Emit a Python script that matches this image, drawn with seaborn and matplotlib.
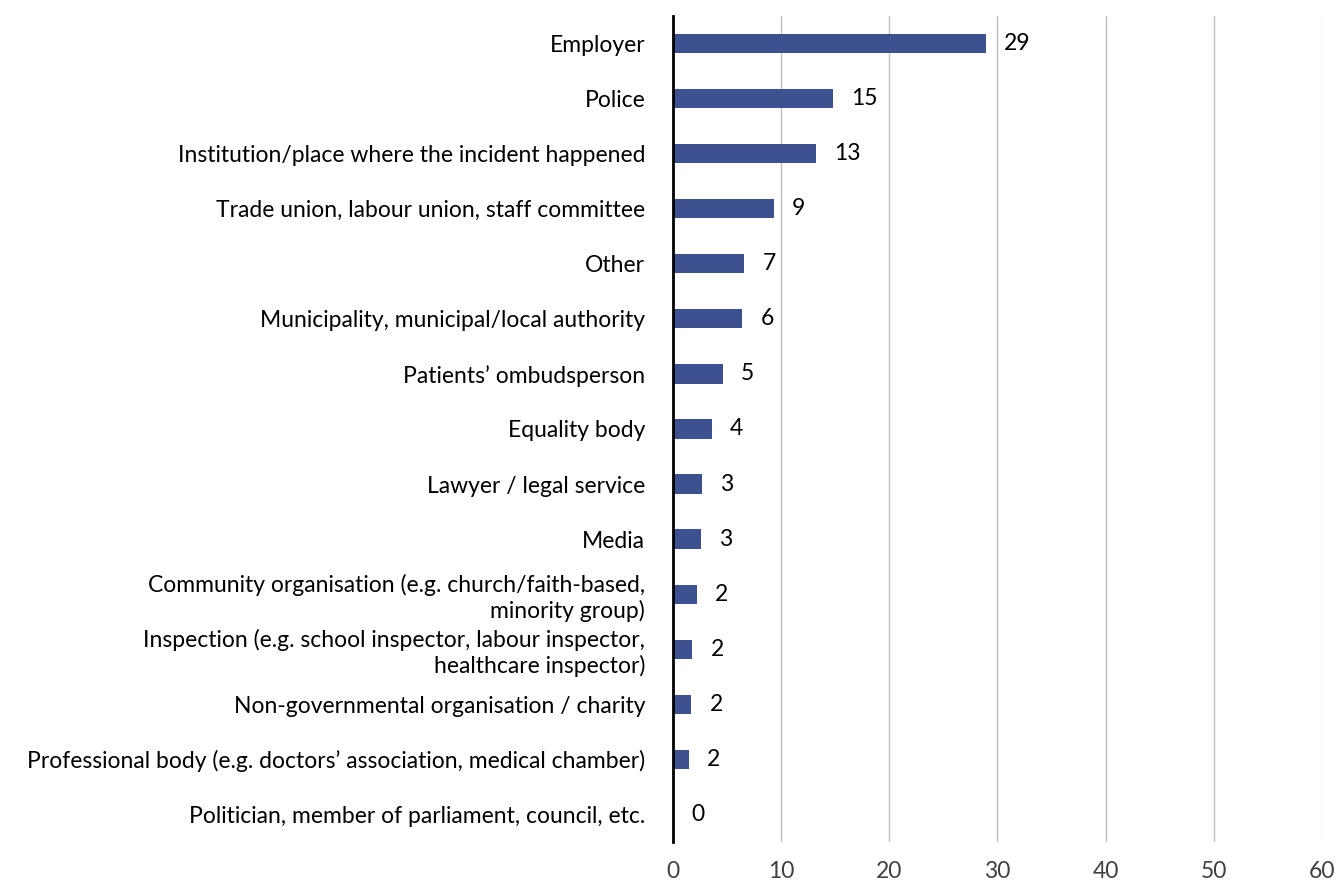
import matplotlib
matplotlib.use("Agg")
import matplotlib.pyplot as plt
import pandas as pd
import seaborn as sns

# Organisations where the incident was reported
categories = [
    "Employer",
    "Police",
    "Institution/place where the incident happened",
    "Trade union, labour union, staff committee",
    "Other",
    "Municipality, municipal/local authority",
    "Patients’ ombudsperson",
    "Equality body",
    "Lawyer / legal service",
    "Media",
    "Community organisation (e.g. church/faith-based,\nminority group)",
    "Inspection (e.g. school inspector, labour inspector,\nhealthcare inspector)",
    "Non-governmental organisation / charity",
    "Professional body (e.g. doctors’ association, medical chamber)",
    "Politician, member of parliament, council, etc.",
]
values = [28.9, 14.8, 13.2, 9.3, 6.6, 6.4, 4.6, 3.6, 2.7, 2.6, 2.2, 1.8, 1.7, 1.5, 0.0]
x_ticks = [0, 10, 20, 30, 40, 50, 60]

df = pd.DataFrame({"category": categories, "value": values})

sns.set_theme(style="white")
plt.rcParams["font.family"] = ["Lato", "DejaVu Sans"]

fig = plt.figure(figsize=(13.38, 8.84), dpi=100)
ax = fig.add_axes([0.503, 0.0475, 0.485, 0.9345])

sns.barplot(data=df, x="value", y="category", orient="h", color="#3d5191",
            width=0.35, saturation=1, linewidth=0, ax=ax)

for patch, v in zip(ax.patches, values):
    y = patch.get_y() + patch.get_height() / 2
    ax.annotate(f"{round(v):d}", xy=(patch.get_width(), y), xytext=(13, 0),
                textcoords="offset points", ha="left", va="center",
                fontsize=16.5, color="black")

ax.set_xlim(0, 60)
ax.set_xticks(x_ticks)
ax.xaxis.grid(True, color="#bfbfbf", linewidth=1)
ax.set_axisbelow(True)
for side in ["top", "right", "bottom"]:
    ax.spines[side].set_visible(False)
ax.spines["left"].set_color("black")
ax.spines["left"].set_linewidth(2)
ax.set_xlabel("")
ax.set_ylabel("")
ax.tick_params(axis="y", length=0, pad=20, labelsize=16.5)
ax.tick_params(axis="x", length=0, pad=14, labelsize=16.5, colors="#404040")
for lbl in ax.get_yticklabels():
    lbl.set_horizontalalignment("right")
    lbl.set_multialignment("right")
    lbl.set_color("black")

fig.savefig("out.png", dpi=100)
